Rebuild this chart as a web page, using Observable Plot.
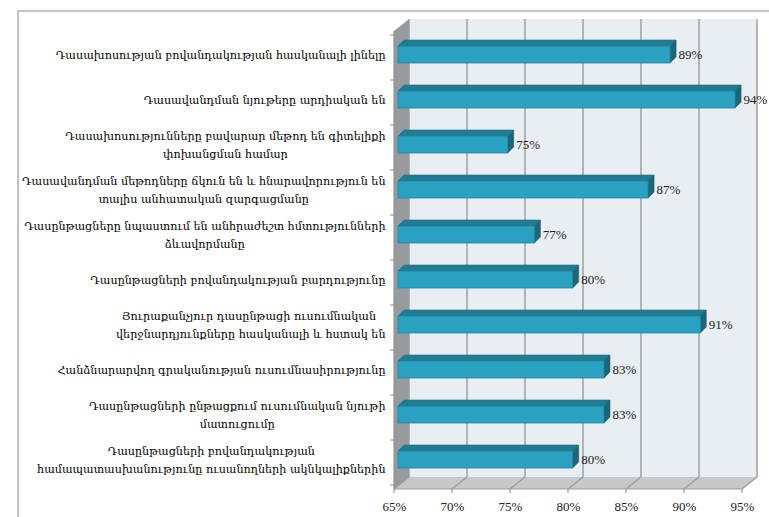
<!DOCTYPE html>
<html>
<head>
<meta charset="utf-8">
<script src="https://cdn.jsdelivr.net/npm/d3@7"></script>
<script src="https://cdn.jsdelivr.net/npm/@observablehq/plot@0.6"></script>
<style>
  body { margin: 0; background: #fff; }
  #wrap { position: relative; width: 769px; height: 517px; overflow: hidden; background: #fff; }
  #frame { position: absolute; left: 17px; top: 10px; width: 800px; height: 600px;
           border-left: 2px solid #c3c3c3; border-top: 2px solid #c3c3c3; pointer-events: none; }
  #chart { position: absolute; left: 0; top: 0; }
</style>
</head>
<body>
<div id="wrap"><div id="chart"></div><div id="frame"></div></div>
<script>
// ---- data ----
const categories = [
  "Դասախոսության բովանդակության հասկանալի լինելը",
  "Դասավանդման նյութերը արդիական են",
  "Դասախոսությունները բավարար մեթոդ են գիտելիքի\nփոխանցման համար",
  "Դասավանդման մեթոդները ճկուն են և հնարավորություն են\nտալիս անհատական զարգացմանը",
  "Դասընթացները նպաստում են անհրաժեշտ հմտությունների\nձևավորմանը",
  "Դասընթացների բովանդակության բարդությունը",
  "Յուրաքանչյուր դասընթացի ուսումնական \nվերջնարդյունքները հասկանալի և հստակ են",
  "Հանձնարարվող գրականության ուսումնասիրությունը",
  "Դասընթացների ընթացքում ուսումնական նյութի\nմատուցումը",
  "Դասընթացների բովանդակության\nհամապատասխանությունը ուսանողների ակնկալիքներին"
];
const values = [0.888, 0.944, 0.748, 0.869, 0.771, 0.804, 0.914, 0.831, 0.831, 0.804];
const xTicks = [0.65, 0.70, 0.75, 0.80, 0.85, 0.90, 0.95];

const data = categories.map((c, i) => ({category: c, value: values[i]}));

// ---- styling constants ----
const W = 769, H = 517;
const M = {top: 31, right: 27, bottom: 28, left: 394};
const WALL = {dx: 15, dy: -12};
const BAR = {inset: 4, dy: -3, h: 17, depth: 6};
const LABEL_RIGHT = 385;
const LABEL_FONT = "DejaVu Serif";
const LABEL_SIZE = 11.2;
const NUM_FONT = "'Liberation Serif', 'Times New Roman', serif";
const pct = d3.format(".0%");

// measure text width
const cv = document.createElement("canvas").getContext("2d");
cv.font = `${LABEL_SIZE}px '${LABEL_FONT}'`;
const maxLineWidth = s => d3.max(s.split("\n"), l => cv.measureText(l).width);

// walls, floor, gridlines
const walls = Plot.frame({
  render(index, scales, values, dims) {
    const {x, y} = scales;
    const x0 = dims.marginLeft, x1 = dims.width - dims.marginRight;
    const y0 = dims.marginTop, y1 = dims.height - dims.marginBottom;
    const {dx, dy} = WALL;
    const g = d3.create("svg:g");
    g.append("rect").attr("x", x0 + dx).attr("y", y0 + dy)
      .attr("width", x1 - x0).attr("height", y1 - y0).attr("fill", "#e8eef2");
    g.append("path").attr("d", `M${x0},${y0}L${x0+dx},${y0+dy}L${x0+dx},${y1+dy}L${x0},${y1}Z`)
      .attr("fill", "#989b9d");
    g.append("path").attr("d", `M${x0},${y1}L${x1},${y1}L${x1+dx},${y1+dy}L${x0+dx},${y1+dy}Z`)
      .attr("fill", "#c6c9cb");
    for (const t of xTicks) {
      const xt = x(t);
      g.append("line").attr("x1", xt + dx).attr("x2", xt + dx).attr("y1", y0 + dy).attr("y2", y1 + dy)
        .attr("stroke", "#9a9a9a").attr("stroke-width", 1.4);
      g.append("line").attr("x1", xt).attr("x2", xt + dx).attr("y1", y1).attr("y2", y1 + dy)
        .attr("stroke", "#9a9a9a").attr("stroke-width", 1.2);
      g.append("line").attr("x1", xt).attr("x2", xt).attr("y1", y1).attr("y2", y1 + 4)
        .attr("stroke", "#8a8a8a");
    }
    g.append("line").attr("x1", x0).attr("x2", x1).attr("y1", y1).attr("y2", y1).attr("stroke", "#9a9a9a");
    g.append("line").attr("x1", x0).attr("x2", x0).attr("y1", y0).attr("y2", y1).attr("stroke", "#8a8a8a");
    const bw = y.bandwidth();
    const bounds = categories.map(c => y(c)).concat([y(categories.at(-1)) + bw]);
    for (const yb of bounds) {
      g.append("line").attr("x1", x0 - 4).attr("x2", x0).attr("y1", yb).attr("y2", yb).attr("stroke", "#8a8a8a");
    }
    return g.node();
  }
});

// 3D bars
const bars = Plot.barX(data, {
  x1: () => xTicks[0], x2: "value", y: "category",
  render(index, scales, values) {
    const bw = scales.y.bandwidth();
    const g = d3.create("svg:g");
    const d = BAR.depth;
    for (const i of index) {
      const xl = values.x1[i] + BAR.inset, xr = values.x2[i];
      const yc = values.y[i] + bw / 2 + BAR.dy;
      const t = yc - BAR.h / 2, b = yc + BAR.h / 2;
      g.append("path").attr("d", `M${xl},${t}L${xl+d},${t-d}L${xr+d},${t-d}L${xr},${t}Z`)
        .attr("fill", "#217b92").attr("stroke", "#1d7088").attr("stroke-width", 0.6);
      g.append("path").attr("d", `M${xr},${t}L${xr+d},${t-d}L${xr+d},${b-d}L${xr},${b}Z`)
        .attr("fill", "#1b6679").attr("stroke", "#185d6e").attr("stroke-width", 0.6);
      g.append("rect").attr("x", xl).attr("y", t).attr("width", xr - xl).attr("height", BAR.h)
        .attr("fill", "#2aa1c1").attr("stroke", "#1f86a2").attr("stroke-width", 0.8);
    }
    return g.node();
  }
});

const chart = Plot.plot({
  width: W, height: H,
  marginTop: M.top, marginRight: M.right, marginBottom: M.bottom, marginLeft: M.left,
  style: {fontFamily: NUM_FONT, background: "transparent", color: "#222"},
  x: {domain: [xTicks[0], xTicks.at(-1)], axis: null},
  y: {domain: categories, padding: 0, axis: null},
  marks: [
    walls,
    bars,
    Plot.axisX({ticks: xTicks, tickFormat: pct, tickSize: 0, tickPadding: 12, fontSize: 13,
                fontFamily: NUM_FONT, label: null}),
    Plot.text(data, {x: "value", y: "category", text: d => pct(d.value),
                     dx: BAR.depth + 2, dy: BAR.dy, textAnchor: "start",
                     fontSize: 13, fontFamily: NUM_FONT, fill: "#222"}),
    Plot.text(data, {
      x: () => xTicks[0], y: "category", text: "category",
      textAnchor: "middle", lineAnchor: "middle", lineHeight: 18 / LABEL_SIZE,
      dy: BAR.dy - 2, fontSize: LABEL_SIZE, fontFamily: LABEL_FONT, fill: "#000",
      render(index, scales, values, dims, ctx, next) {
        const X = new Float64Array(values.x.length);
        for (const i of index) X[i] = LABEL_RIGHT - maxLineWidth(data[i].category) / 2;
        return next(index, scales, {...values, x: X}, dims, ctx);
      }
    })
  ]
});
document.getElementById("chart").append(chart);
</script>
</body>
</html>
